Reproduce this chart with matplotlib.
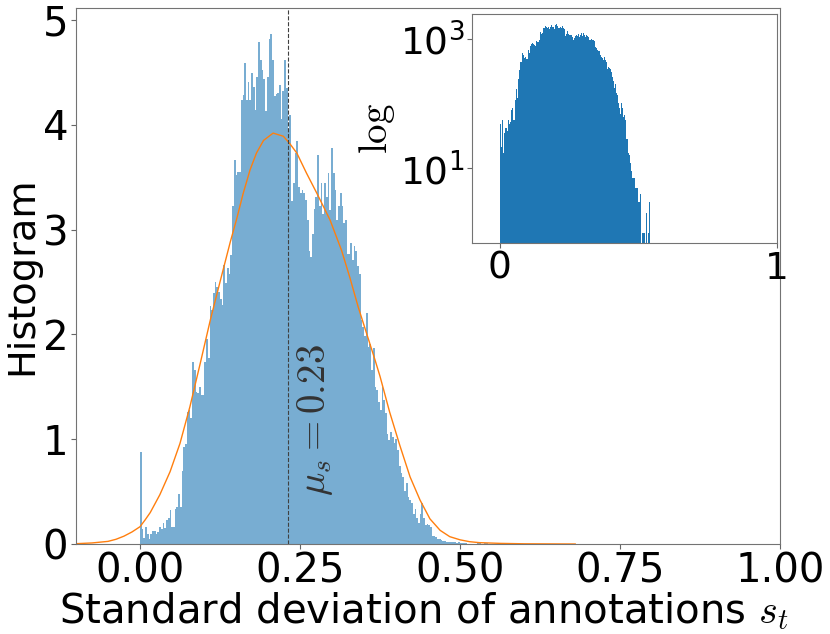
import numpy as np
import matplotlib
matplotlib.use("Agg")
import matplotlib.pyplot as plt
from matplotlib.ticker import NullLocator

plt.rcParams['mathtext.fontset'] = 'cm'
plt.rcParams['font.family'] = ['DejaVu Sans']

# ---- data ----
hist_range = (0.0, 0.543)
n_bins = 200

# density height of each of the 200 bins (main panel)
density = [
    0.88, 0.14, 0.06, 0.16, 0.10, 0.05, 0.10, 0.12, 0.12, 0.10,
    0.11, 0.16, 0.14, 0.20, 0.15, 0.23, 0.25, 0.32, 0.16, 0.16,
    0.33, 0.35, 0.48, 0.35, 0.70, 0.93, 0.95, 1.26, 1.28, 1.20,
    1.74, 1.66, 1.45, 1.44, 1.50, 1.42, 1.42, 1.74, 1.96, 1.77,
    2.27, 2.23, 2.39, 2.50, 2.45, 2.40, 2.34, 2.28, 2.66, 2.49,
    2.63, 2.58, 2.76, 3.22, 3.66, 3.52, 3.55, 3.55, 4.24, 4.28,
    4.59, 4.24, 4.41, 4.24, 4.49, 4.36, 4.14, 4.46, 4.79, 4.62,
    4.52, 4.44, 4.13, 4.46, 4.82, 4.87, 4.62, 4.27, 4.29, 4.30,
    4.38, 4.05, 4.32, 4.62, 4.35, 3.95, 4.09, 3.27, 3.44, 3.73,
    3.84, 3.41, 3.35, 3.38, 3.35, 3.28, 3.09, 2.80, 2.74, 2.96,
    3.20, 3.31, 3.71, 3.22, 3.44, 3.15, 3.44, 3.31, 3.54, 3.19,
    3.78, 3.54, 3.38, 3.09, 3.22, 3.35, 3.22, 3.06, 3.09, 2.77,
    2.77, 2.87, 2.71, 2.84, 2.80, 2.65, 2.58, 2.14, 2.07, 1.98,
    2.20, 1.88, 1.91, 1.66, 1.87, 1.50, 1.47, 1.35, 1.28, 1.50,
    1.37, 1.25, 1.05, 0.99, 1.07, 1.02, 0.96, 1.00, 0.90, 0.74,
    0.68, 0.64, 0.51, 0.58, 0.45, 0.42, 0.39, 0.29, 0.33, 0.25,
    0.20, 0.29, 0.39, 0.25, 0.18, 0.19, 0.18, 0.16, 0.08, 0.08,
    0.07, 0.05, 0.045, 0.035, 0.03, 0.025, 0.02, 0.02, 0.015, 0.02,
    0.015, 0.015, 0.01, 0.015, 0.01, 0.01, 0.0115, 0.0086, 0.0, 0.0029,
    0.0029, 0.0029, 0.0029, 0.0, 0.0057, 0.0057, 0.0, 0.0029, 0.0086, 0.0115,
]
# counts per unit of density (peak bin ~1700 counts in the inset)
counts_per_density = 349

# fitted curve (orange), read point by point
curve_x = [-0.10, -0.075, -0.05, -0.0375, -0.025, -0.0125, 0.0, 0.008, 0.016,
           0.031, 0.047, 0.0625, 0.078, 0.094, 0.11, 0.125, 0.141, 0.151,
           0.161, 0.172, 0.182, 0.193, 0.208, 0.224, 0.234, 0.245, 0.26,
           0.276, 0.289, 0.297, 0.315, 0.328, 0.341, 0.367, 0.375, 0.39,
           0.406, 0.422, 0.4375, 0.453, 0.469, 0.484, 0.50, 0.515, 0.53,
           0.5625, 0.60, 0.68]
curve_y = [0.003, 0.01, 0.025, 0.045, 0.075, 0.115, 0.165, 0.23, 0.30,
           0.47, 0.69, 0.96, 1.31, 1.72, 2.14, 2.50, 2.88, 3.10,
           3.34, 3.57, 3.73, 3.85, 3.92, 3.89, 3.82, 3.73, 3.54,
           3.35, 3.19, 3.09, 2.80, 2.54, 2.26, 1.76, 1.60, 1.26,
           0.94, 0.64, 0.42, 0.24, 0.13, 0.07, 0.04, 0.022, 0.013,
           0.006, 0.002, 0.0]

mu_s = 0.232
mu_label = r'$\mu_s = 0.23$'

# ---- build bins ----
edges = np.linspace(hist_range[0], hist_range[1], n_bins + 1)
centers = 0.5 * (edges[:-1] + edges[1:])
density = np.array(density)
counts = np.round(density * counts_per_density)

fig = plt.figure(figsize=(8.3, 6.34), dpi=100)
ax = fig.add_axes([76 / 830, 90 / 634, 704 / 830, 536 / 634])

ax.hist(centers, bins=edges, weights=density, color='C0', alpha=0.6)
ax.plot(curve_x, curve_y, color='C1', lw=1.0)
ax.axvline(mu_s, color='0.25', ls='--', lw=0.8)
ax.text(0.273, 1.18, mu_label, rotation=90, ha='center', va='center',
        fontsize=28, color='0.2')

ax.set_xlim(-0.1, 1.0)
ax.set_xticks([0.0, 0.25, 0.5, 0.75, 1.0])
ax.set_xticklabels(['0.00', '0.25', '0.50', '0.75', '1.00'])
ax.set_yticks([0, 1, 2, 3, 4, 5])
ax.tick_params(labelsize=29, color='0.4', length=3.5, width=0.8, pad=2)
for s in ax.spines.values():
    s.set_color('0.45')
ax.set_ylabel('Histogram', fontsize=27.5, labelpad=2)
ax.set_xlabel(r'Standard deviation of annotations $s_t$', fontsize=29,
              labelpad=0)
ax.xaxis.set_label_coords((424 - 76) / 704, -0.086)

# ---- inset (log counts) ----
axi = fig.add_axes([472 / 830, 391 / 634, 305 / 830, 229 / 634])
axi.hist(centers, bins=edges, weights=counts, log=True, color='C0')
axi.set_xlim(-0.1, 1.0)
axi.set_xticks([0, 1])
axi.set_xticklabels(['0', '1'])
axi.set_yticks([10, 1000])
axi.yaxis.set_minor_locator(NullLocator())
axi.tick_params(labelsize=27, color='0.4', length=3.5, width=0.8, pad=2)
for s in axi.spines.values():
    s.set_color('0.45')
axi.set_ylabel(r'$\log$', fontsize=28, labelpad=2)

fig.savefig('out.png', dpi=100)
